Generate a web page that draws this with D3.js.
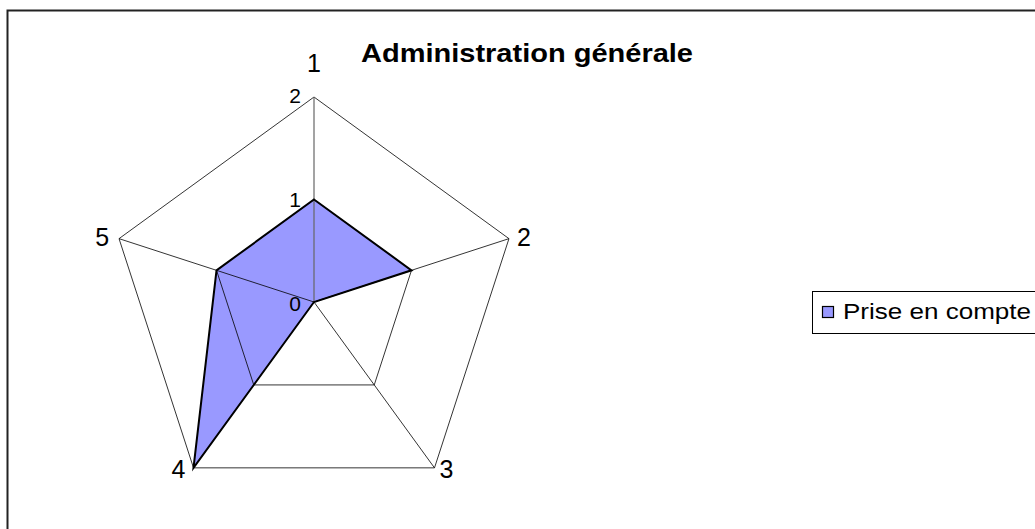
<!DOCTYPE html>
<html><head><meta charset="utf-8">
<script src="https://cdn.jsdelivr.net/npm/d3@7"></script>
<style>body{margin:0;background:#fff;} svg{display:block;font-family:"Liberation Sans",Arial,sans-serif;}</style>
</head><body>
<svg id="c" width="1035" height="529"></svg>
<script>
const categories = ["1","2","3","4","5"];
const seriesName = "Prise en compte";
const values = [1, 1, 0, 2, 1];
const tickValues = [0, 1, 2];
const title = "Administration générale";

const svg = d3.select("#c");
const cx = 314, cy = 302, R = 205;
svg.append("rect").attr("x",7.5).attr("y",10.5).attr("width",1100).attr("height",600)
  .attr("fill","#fff").attr("stroke","#222").attr("stroke-width",2);

const r = d3.scaleLinear().domain([0,2]).range([0,R]);
const ang = d3.scaleLinear().domain([0,categories.length]).range([0,2*Math.PI]);
const pt = (i,v)=>[cx + r(v)*Math.sin(ang(i)), cy - r(v)*Math.cos(ang(i))];

const g = svg.append("g");
g.append("polygon")
  .attr("points", values.map((v,i)=>pt(i,v).join(",")).join(" "))
  .attr("fill","#9999FF");
tickValues.filter(t=>t>0).forEach(t=>{
  g.append("polygon").attr("points", categories.map((c,i)=>pt(i,t).join(",")).join(" "))
   .attr("fill","none").attr("stroke","#000").attr("stroke-width",0.8);
});
categories.forEach((c,i)=>{
  const [x,y]=pt(i,2);
  g.append("line").attr("x1",cx).attr("y1",cy).attr("x2",x).attr("y2",y)
   .attr("stroke", i===0?"#666":"#000").attr("stroke-width",i===0?1.2:0.8);
});
g.append("polygon")
  .attr("points", values.map((v,i)=>pt(i,v).join(",")).join(" "))
  .attr("fill","none").attr("stroke","#000").attr("stroke-width",2).attr("stroke-linejoin","miter");

const tickDy = {0:9, 1:7.5, 2:6};
tickValues.forEach(t=>{
  g.append("text").attr("x",cx-13).attr("y",cy - r(t)+tickDy[t]).attr("text-anchor","end")
   .attr("font-size",21).text(t);
});
const lab = [
  {dx:0, dy:-25, a:"middle"},
  {dx:8, dy:7, a:"start"},
  {dx:5, dy:10, a:"start"},
  {dx:-8, dy:10, a:"end"},
  {dx:-10, dy:7, a:"end"}
];
categories.forEach((c,i)=>{
  const [x,y]=pt(i,2);
  g.append("text").attr("x",x+lab[i].dx).attr("y",y+lab[i].dy).attr("text-anchor",lab[i].a)
   .attr("font-size",25).text(c);
});

svg.append("text").attr("x",361).attr("y",62)
  .attr("font-size",25).attr("font-weight","bold")
  .attr("textLength",332).attr("lengthAdjust","spacingAndGlyphs").text(title);

svg.append("rect").attr("x",812.5).attr("y",291.5).attr("width",300).attr("height",42)
  .attr("fill","#fff").attr("stroke","#000").attr("stroke-width",1);
svg.append("rect").attr("x",822.5).attr("y",306.5).attr("width",11).attr("height",11)
  .attr("fill","#9999FF").attr("stroke","#000").attr("stroke-width",1.2);
svg.append("text").attr("x",843).attr("y",319).attr("font-size",22)
  .attr("textLength",188).attr("lengthAdjust","spacingAndGlyphs").text(seriesName);
</script>
</body></html>
